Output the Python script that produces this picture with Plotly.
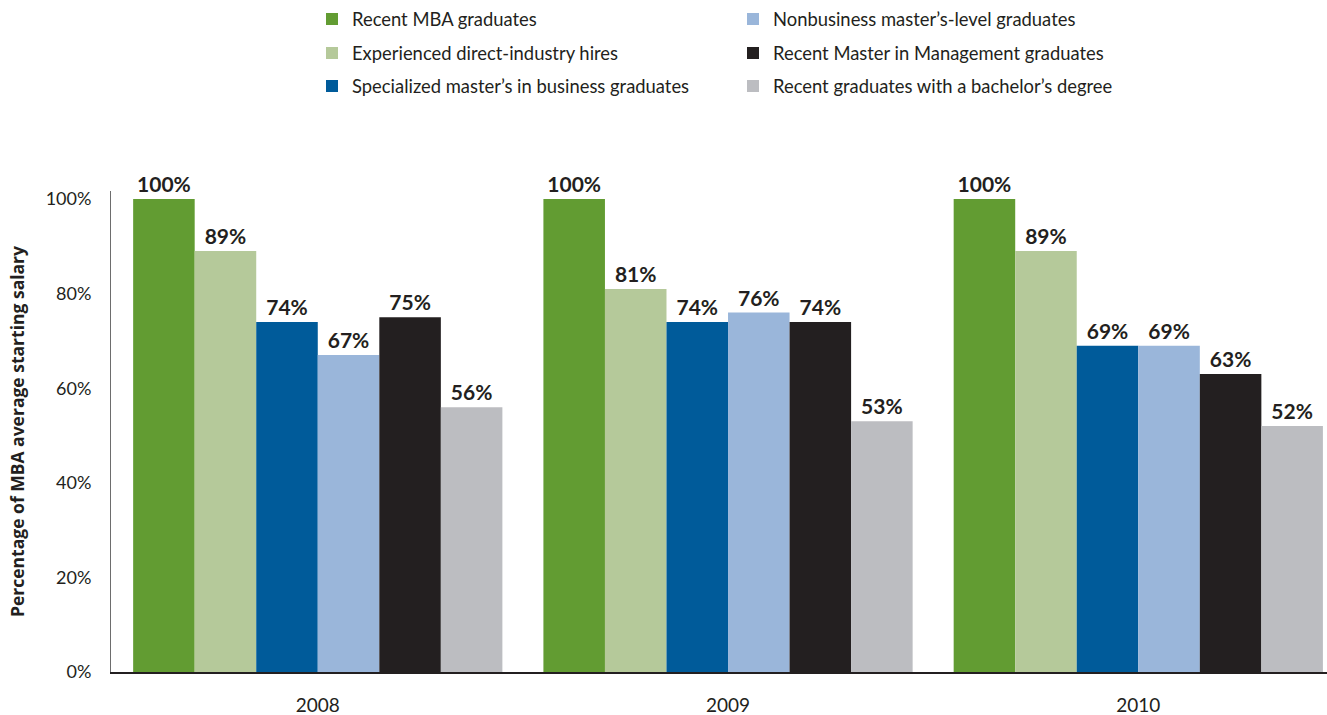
import plotly.graph_objects as go

years = ["2008", "2009", "2010"]
series_names = [
    "Recent MBA graduates",
    "Experienced direct-industry hires",
    "Specialized master’s in business graduates",
    "Nonbusiness master’s-level graduates",
    "Recent Master in Management graduates",
    "Recent graduates with a bachelor’s degree",
]
mba = [100, 100, 100]
experienced = [89, 81, 89]
specialized = [74, 74, 69]
nonbusiness = [67, 76, 69]
mim = [75, 74, 63]
bachelor = [56, 53, 52]
series_values = [mba, experienced, specialized, nonbusiness, mim, bachelor]
colors = ["#629c32", "#b5c99a", "#005b9a", "#9ab6da", "#231f20", "#bcbdc1"]
# legend assignment (row)
legend_ids = ["legend", "legend2", "legend3", "legend", "legend2", "legend3"]
y_ticks = [0, 20, 40, 60, 80, 100]
y_tick_text = ["0%", "20%", "40%", "60%", "80%", "100%"]

FONT = "Lato"

fig = go.Figure()
for name, vals, col, lg in zip(series_names, series_values, colors, legend_ids):
    fig.add_trace(go.Bar(
        x=years, y=vals, name=name, marker_color=col, marker_line_width=0,
        text=[f"{v}%" for v in vals], textposition="outside",
        textfont=dict(family=FONT, size=21, color="#231f20", weight="bold"),
        cliponaxis=False, constraintext="none", legend=lg,
        hoverinfo="skip",
    ))

L, R = 111, 0
plot_w = 1327 - L - R
plot_top, plot_bot = 191, 672
plot_h = plot_bot - plot_top


def ly(px):
    return (plot_bot - px) / plot_h


leg_common = dict(orientation="h", entrywidth=376, entrywidthmode="pixels",
                  font=dict(family=FONT, size=18.4, color="#231f20"),
                  xanchor="left", yanchor="middle", x=(312 - L) / plot_w,
                  bgcolor="rgba(0,0,0,0)", itemclick=False)

fig.update_layout(
    width=1327, height=715,
    margin=dict(l=L, r=R, t=plot_top, b=715 - plot_bot),
    plot_bgcolor="white", paper_bgcolor="white",
    barmode="group", bargap=0.1, bargroupgap=0,
    font=dict(family=FONT, size=17, color="#231f20"),
    legend=dict(**leg_common, y=ly(19)),
    legend2=dict(**leg_common, y=ly(53)),
    legend3=dict(**leg_common, y=ly(86)),
    xaxis=dict(range=[-0.504, 2.46], showline=True, linecolor="#231f20", linewidth=2,
               ticks="outside", ticklen=15, tickcolor="rgba(0,0,0,0)",
               tickfont=dict(family=FONT, size=19, color="#231f20"), fixedrange=True),
    yaxis=dict(range=[0, 101.7], tickmode="array", tickvals=y_ticks, ticktext=y_tick_text,
               showgrid=False, zeroline=False, showline=True, linecolor="#6d6d6d", linewidth=1,
               ticks="outside", ticklen=15, tickcolor="rgba(0,0,0,0)",
               tickfont=dict(family=FONT, size=18, color="#231f20"),
               title=dict(text="Percentage of MBA average starting salary",
                          font=dict(family="Open Sans", size=17.5, color="#231f20", weight="bold"),
                          standoff=16),
               fixedrange=True),
    showlegend=True,
)

fig.write_html("out.html")
